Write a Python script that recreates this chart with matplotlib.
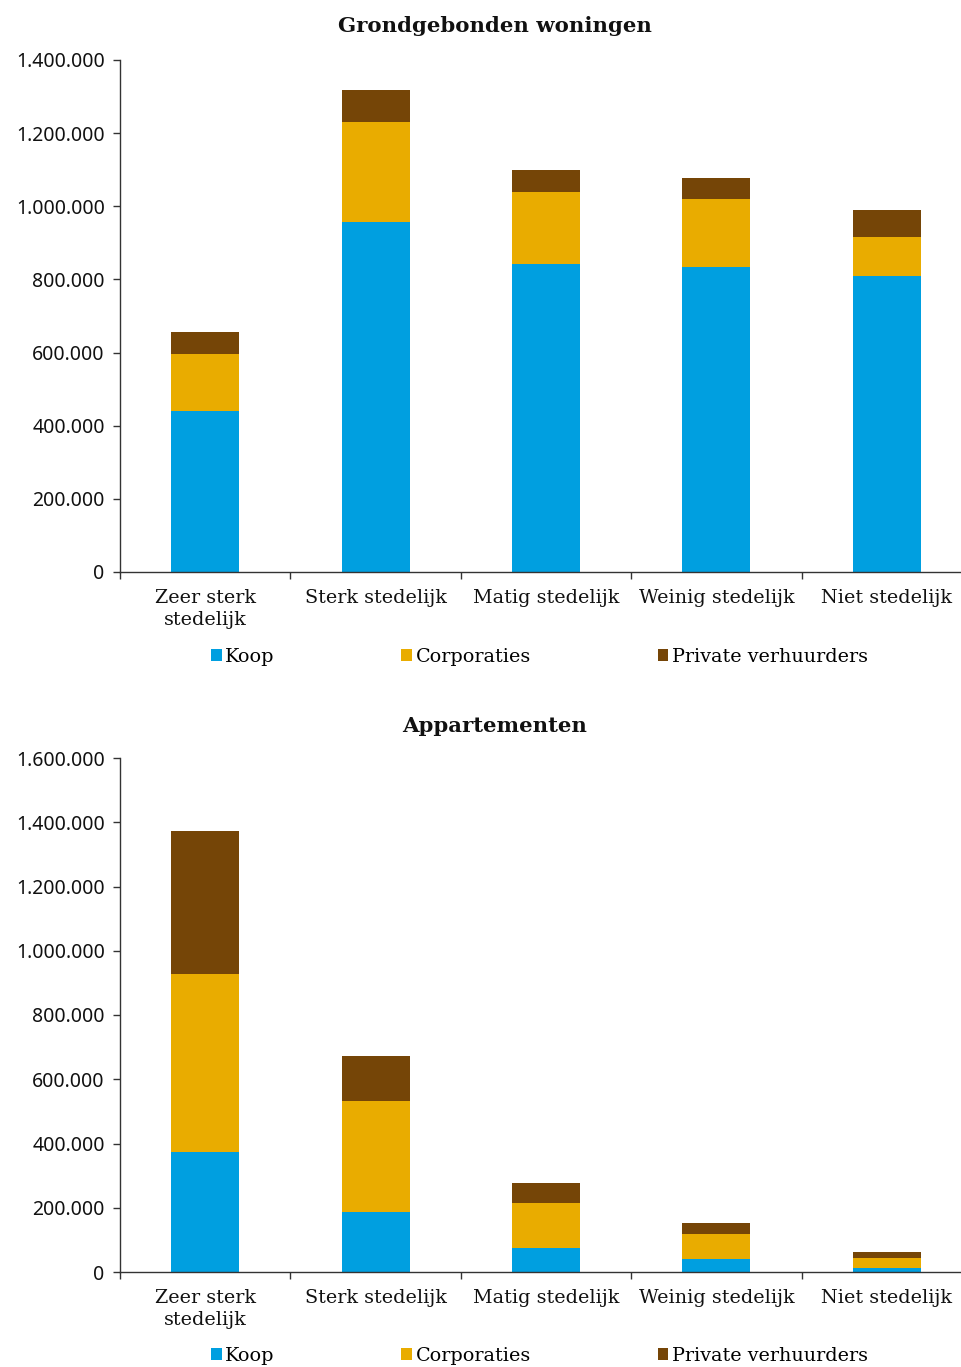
import matplotlib
matplotlib.use("Agg")
import matplotlib.pyplot as plt
import numpy as np
from matplotlib.ticker import FuncFormatter, FixedLocator

categories = ["Zeer sterk\nstedelijk", "Sterk stedelijk", "Matig stedelijk",
              "Weinig stedelijk", "Niet stedelijk"]
series = ["Koop", "Corporaties", "Private verhuurders"]

# Grondgebonden woningen
grond_koop = [441000, 957000, 842000, 834000, 809000]
grond_corp = [154000, 274000, 197000, 186000, 107000]
grond_priv = [60000, 88000, 60000, 58000, 74000]

# Appartementen
app_koop = [372000, 186000, 76000, 40000, 12000]
app_corp = [557000, 347000, 139000, 78000, 32000]
app_priv = [445000, 138000, 61000, 34000, 17000]

colors = ["#009FE0", "#E9AC00", "#754507"]

W, H = 962, 1367
fig = plt.figure(figsize=(W / 100, H / 100), dpi=100)

serif = "DejaVu Serif"
sans = "Noto Sans"


def dutch(v, pos):
    return f"{int(v):,}".replace(",", ".")


def draw(ax_rect, koop, corp, priv, ymax, title, title_y, legend_y):
    ax = fig.add_axes(ax_rect)
    x = np.arange(len(categories))
    bottoms = np.zeros(len(categories))
    for vals, col, name in zip([koop, corp, priv], colors, series):
        ax.bar(x, vals, width=0.40, bottom=bottoms, color=col, label=name,
               edgecolor="none")
        bottoms += np.array(vals)

    ax.set_xlim(-0.5, len(categories) - 0.5)
    ax.set_ylim(0, ymax)
    ax.yaxis.set_major_locator(FixedLocator(np.arange(0, ymax + 1, 200000)))
    ax.yaxis.set_major_formatter(FuncFormatter(dutch))

    ax.xaxis.set_major_locator(FixedLocator(np.arange(-0.5, len(categories), 1.0)))
    ax.xaxis.set_major_formatter(FuncFormatter(lambda v, p: ""))
    ax.xaxis.set_minor_locator(FixedLocator(x))
    ax.set_xticklabels(categories, minor=True, fontfamily=serif, fontsize=13.8,
                       linespacing=1.3, color="#111111")
    ax.tick_params(axis="x", which="minor", length=0, pad=12)
    ax.tick_params(axis="x", which="major", length=5, width=1, color="#333333")
    ax.tick_params(axis="y", length=5, width=1, color="#333333", pad=6)
    for lab in ax.get_yticklabels():
        lab.set_fontfamily(sans)
        lab.set_fontsize(14)
        lab.set_color("#111111")

    for s in ["top", "right"]:
        ax.spines[s].set_visible(False)
    for s in ["left", "bottom"]:
        ax.spines[s].set_color("#333333")
        ax.spines[s].set_linewidth(1)

    fig.text(495 / W, 1 - title_y / H, title, ha="center", va="center",
             fontfamily=serif, fontweight="bold", fontsize=15.3, color="#111111")

    ax.legend(loc="center left", bbox_to_anchor=(211 / W, 1 - legend_y / H),
              bbox_transform=fig.transFigure, ncol=3, frameon=False,
              prop={"family": serif, "size": 13.8},
              handlelength=0.55, handleheight=0.55, handletextpad=0.2,
              columnspacing=6.6, borderaxespad=0, borderpad=0)
    return ax


ax_left = 120 / W
ax_width = 852 / W

draw([ax_left, 1 - 572 / H, ax_width, 512 / H], grond_koop, grond_corp, grond_priv,
     1400000, "Grondgebonden woningen", 26, 657)
draw([ax_left, 1 - 1272 / H, ax_width, 514 / H], app_koop, app_corp, app_priv,
     1600000, "Appartementen", 726, 1356)

fig.savefig("out.png", dpi=100)
